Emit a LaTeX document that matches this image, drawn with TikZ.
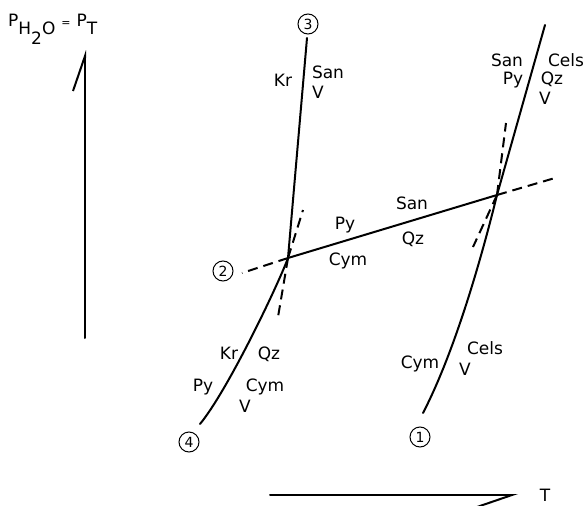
\documentclass[tikz,border=0pt]{standalone}
\usepackage{fontspec}
\setmainfont{DejaVu Sans}
\usepackage{tikz}
\usetikzlibrary{arrows.meta}
\tikzset{
  linha/.style={line width=2pt, line cap=round},
  metaestavel/.style={line width=2pt, dash pattern=on 10pt off 6pt},
  rotulo/.style={font=\fontsize{17}{17}\selectfont, inner sep=0pt, text height=12.4pt, text depth=0pt},
  numero/.style={draw, circle, line width=1pt, minimum size=20pt, inner sep=0pt, font=\fontsize{14}{14}\selectfont},
  seta/.style={linha, -{Straight Barb[#1,length=35pt,width=24pt]}},
}
\newcommand{\desce}[1]{\raisebox{-9pt}{#1}}

\begin{document}
\begin{tikzpicture}[x=1pt, y=-1pt]
  \useasboundingbox (0,0) rectangle (587,506);
  % pontos invariantes e extremos
  \coordinate (ptA) at (288,258);
  \coordinate (ptB) at (497,195);
  \coordinate (fim1) at (423,413);
  \coordinate (topo1) at (545,25);
  \coordinate (fim3) at (307,38);
  \coordinate (fim4) at (200,424);
  \coordinate (tra2) at (242,273);
  \coordinate (traB) at (555,178);
  \coordinate (traAc) at (303,210);
  \coordinate (traAb) at (278,317);
  \coordinate (traBc) at (506,123);
  \coordinate (traBb) at (473,247);
  % eixos
  \coordinate (pbase) at (85,338);
  \coordinate (ptopo) at (85,50);
  \coordinate (tbase) at (270,495);
  \coordinate (tponta) at (518,495);
  \node[anchor=base west, font=\fontsize{17}{17}\selectfont, inner sep=0pt] (titulo) at (8,26)
    {P\desce{H\desce{2}O}\hspace{6pt}{\fontsize{11}{11}\selectfont=}\hspace{6pt}P\desce{T}};
  \node[rotulo] (rotT) at (545,495) {T};
  \draw[seta=left] (pbase) -- (ptopo);
  \draw[seta=right] (tbase) -- (tponta);
  % numeros das reacoes
  \node[numero] (n1) at (420,437) {1};
  \node[numero] (n2) at (223,271) {2};
  \node[numero] (n3) at (308,24) {3};
  \node[numero] (n4) at (189,442) {4};
  % curvas estaveis
  \draw[linha] (fim1) .. controls (452,357) and (478,272) .. (ptB) -- (topo1);
  \draw[linha] (ptA) -- (fim3);
  \draw[linha] (fim4) .. controls (228,390) and (278,285) .. (ptA) -- (ptB);
  % extensoes metaestaveis
  \draw[metaestavel] (ptA) -- (tra2);
  \draw[metaestavel] (ptB) -- (traB);
  \draw[metaestavel] (ptA) -- (traAc);
  \draw[metaestavel] (ptA) -- (traAb);
  \draw[metaestavel] (ptB) -- (traBc);
  \draw[metaestavel] (ptB) -- (traBb);
  % fases
  \node[rotulo] (kr3) at (283,80) {Kr};
  \node[rotulo] (san3) at (328,72) {San};
  \node[rotulo] (v3) at (318,92) {V};
  \node[rotulo] (san1) at (507,60) {San};
  \node[rotulo] (cels1) at (566,60) {Cels};
  \node[rotulo] (py1) at (513,78) {Py};
  \node[rotulo] (qz1) at (552,78) {Qz};
  \node[rotulo] (v1) at (545,98) {V};
  \node[rotulo] (pyAB) at (345,223) {Py};
  \node[rotulo] (sanAB) at (412,203) {San};
  \node[rotulo] (cymAB) at (348,259) {Cym};
  \node[rotulo] (qzAB) at (413,238) {Qz};
  \node[rotulo] (kr4) at (229,353) {Kr};
  \node[rotulo] (qz4) at (269,353) {Qz};
  \node[rotulo] (py4) at (203,385) {Py};
  \node[rotulo] (cym4) at (265,385) {Cym};
  \node[rotulo] (v4) at (245,406) {V};
  \node[rotulo] (cym1) at (420,362) {Cym};
  \node[rotulo] (cels1b) at (485,348) {Cels};
  \node[rotulo] (v1b) at (465,369) {V};
\end{tikzpicture}
\end{document}
